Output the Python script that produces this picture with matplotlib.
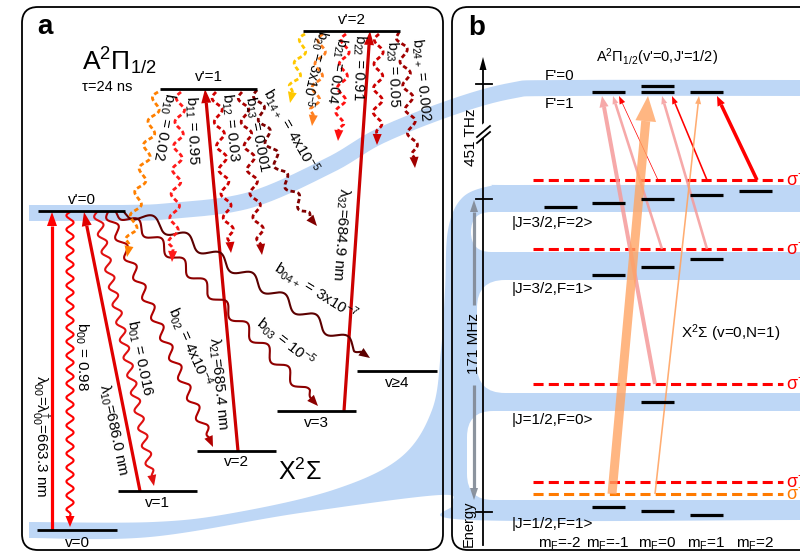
import numpy as np
import matplotlib
matplotlib.use("Agg")
import matplotlib.pyplot as plt
from matplotlib.patches import FancyBboxPatch, Polygon

plt.rcParams['font.family'] = ['Liberation Sans', 'DejaVu Sans']
plt.rcParams['mathtext.fontset'] = 'custom'
plt.rcParams['mathtext.rm'] = 'Liberation Sans'
plt.rcParams['mathtext.it'] = 'Liberation Sans:italic'
plt.rcParams['mathtext.bf'] = 'Liberation Sans:bold'

# ---------------- data: panel a ----------------
a_level_names = ["v'=0", "v'=1", "v'=2", "v=0", "v=1", "v=2", "v=3", "v≥4"]
a_level_x0 = [38, 160, 303, 37, 118, 197, 277, 357]
a_level_x1 = [125, 257, 400, 117, 197, 276, 356, 437]
a_level_y = [211, 89, 31, 530, 491, 451, 411, 371]
a_level_label_y = [200, 77, 20, 543, 503, 462, 423, 383]

pump_labels = ['λ$_{00}$=λ$^{†}_{00}$=663.3 nm', 'λ$_{10}$=686.0 nm',
               'λ$_{21}$=685.4 nm', 'λ$_{32}$=684.9 nm']
pump_start = [(52, 530), (140, 491), (238, 451), (344, 411)]
pump_end = [(52, 212), (84, 212), (205, 89), (370, 31)]
pump_colors = ['#ff0000', '#e00000', '#cc0000', '#cc0000']
pump_label_pos = [(41, 436, -90), (113, 430, -78), (218, 384, -84.5), (340, 234, -94)]

# decays from v'=0 (solid wavy)
d0_labels = ['b$_{00}$ = 0.98', 'b$_{01}$ = 0.016', 'b$_{02}$ = 4x10$^{-4}$',
             'b$_{03}$ = 10$^{-5}$', 'b$_{04+}$ = 3x10$^{-7}$']
d0_start = [(70, 212), (97, 212), (108, 212), (116, 212), (124, 212)]
d0_end = [(70, 527), (154, 486), (213, 447), (318, 406), (370, 358)]
d0_ctrl = [None, None, None, (150, 222), (165, 216)]
d0_colors = ['#ff0000', '#e01010', '#b00000', '#8b0000', '#5c0000']
d0_wl = [14, 18, 22, 30, 38]
d0_amp = [3.6, 3.8, 4.2, 5.0, 5.5]
d0_label_pos = [(82, 357, -90), (140, 358, -78), (190, 347, -66), (286, 342, -38), (316, 291, -32)]

# decays from v'=1 (dotted wavy)
d1_labels = ['b$_{10}$ = 0.02', 'b$_{11}$ = 0.95', 'b$_{12}$ = 0.03',
             'b$_{13}$ = 0.001', 'b$_{14+}$ = 4x10$^{-5}$']
d1_start = [(158, 92), (181, 92), (216, 92), (242, 92), (257, 90)]
d1_end = [(127, 257), (172, 262), (231, 253), (262, 255), (317, 226)]
d1_ctrl = [None, None, None, None, (268, 168)]
d1_colors = ['#ff8000', '#ff1a1a', '#d00000', '#a80000', '#800000']
d1_label_pos = [(164, 127, -100), (192, 130, -88), (230, 128, -84), (257, 134, -79), (291, 131, -60)]

# decays from v'=2 (dotted wavy)
d2_labels = ['b$_{20}$ = 3x10$^{-5}$', 'b$_{21}$ = 0.04', 'b$_{22}$ = 0.91',
             'b$_{23}$ = 0.05', 'b$_{24+}$ = 0.002']
d2_start = [(305, 34), (323, 34), (346, 34), (379, 34), (399, 32)]
d2_end = [(290, 103), (312, 126), (338, 141), (377, 145), (415, 168)]
d2_ctrl = [None, None, None, None, (404, 40)]
d2_colors = ['#ffc800', '#ff8020', '#ff1010', '#cc0000', '#a00000']
d2_label_pos = [(314, 68, -103), (336, 70, -99), (359, 68, -92), (393, 74, -88), (421, 80, -84)]
d2_label_size = [10, 10.5, 10.5, 10.5, 10.5]

# ---------------- data: panel b ----------------
mF_values = [-2, -1, 0, 1, 2]
mF_x = [560, 608, 657, 706, 755]
mF_labels = ['m$_\\mathrm{F}$=-2', 'm$_\\mathrm{F}$=-1', 'm$_\\mathrm{F}$=0',
             'm$_\\mathrm{F}$=1', 'm$_\\mathrm{F}$=2']
b_level_names = ["F'=1", "F'=0", '|J=3/2,F=2>', '|J=3/2,F=1>', '|J=1/2,F=0>', '|J=1/2,F=1>']
b_level_mF = [[-1, 0, 1], [0], [-2, -1, 0, 1, 2], [-1, 0, 1], [0], [-1, 0, 1]]
b_level_y = [[92, 92, 92], [86], [207, 203, 199, 195, 191], [275, 267, 259], [402], [507, 511, 515]]
b_state_labels = ['|J=3/2,F=2>', '|J=3/2,F=1>', '|J=1/2,F=0>', '|J=1/2,F=1>']
b_state_label_y = [223, 289, 420, 524]

pol_y = [180, 249, 384, 482, 494]
pol_labels = ['σ$^{-}$', 'σ$^{-}$', 'σ$^{-}$', 'σ$^{-}$', 'σ$^{+}$']
pol_colors = ['#ff0000', '#ff0000', '#ff0000', '#ff0000', '#ff7a00']

tr_start = [(757, 180), (707, 180), (658, 180), (707, 249), (662, 249), (655, 384), (612, 494), (655, 494)]
tr_end = [(717, 96), (672, 96), (619, 96), (662, 96), (613, 96), (602, 96), (648, 96), (699, 96)]
tr_colors = ['#ff0000', '#ff0000', '#ff0000', '#f59a9a', '#f59a9a', '#f59a9a', '#ffa463', '#ffa463']
tr_width = [3.5, 1.6, 0.7, 2.6, 2.6, 4.0, 9.0, 1.6]
tr_alpha = [1, 1, 1, 0.85, 0.85, 0.85, 0.8, 0.9]

band_color = '#bed7f6'

# ---------------- helpers ----------------
def catmull(points, n=30):
    pts = np.array(points, float)
    P = np.vstack([pts[0], pts, pts[-1]])
    out = []
    for i in range(1, len(P) - 2):
        p0, p1, p2, p3 = P[i - 1], P[i], P[i + 1], P[i + 2]
        t = np.linspace(0, 1, n, endpoint=False)[:, None]
        seg = 0.5 * ((2 * p1) + (-p0 + p2) * t + (2 * p0 - 5 * p1 + 4 * p2 - p3) * t ** 2
                     + (-p0 + 3 * p1 - 3 * p2 + p3) * t ** 3)
        out.append(seg)
    out.append(pts[-1][None, :])
    return np.vstack(out)


def head(ax, tip, dirv, hl, hw, color, z, alpha=1):
    nv = np.array([-dirv[1], dirv[0]])
    b = tip - hl * dirv
    ax.add_patch(Polygon([tip, b + nv * hw / 2, b - nv * hw / 2], closed=True,
                         facecolor=color, edgecolor='none', zorder=z, alpha=alpha))


def wavy_arrow(ax, p0, p1, color, wl, amp, ctrl=None, ls='-', lw=1.5, hl=10, hw=8, z=4):
    p0 = np.array(p0, float); p1 = np.array(p1, float)
    c = (p0 + p1) / 2 if ctrl is None else np.array(ctrl, float)
    t = np.linspace(0, 1, 800)[:, None]
    base = (1 - t) ** 2 * p0 + 2 * (1 - t) * t * c + t ** 2 * p1
    d = np.diff(base, axis=0)
    s = np.concatenate([[0], np.cumsum(np.hypot(d[:, 0], d[:, 1]))])
    L = s[-1]
    tang = np.gradient(base, axis=0)
    tang /= np.linalg.norm(tang, axis=1)[:, None]
    nrm = np.stack([-tang[:, 1], tang[:, 0]], 1)
    env = np.clip((L - hl - s) / 6, 0, 1)
    off = amp * np.sin(2 * np.pi * s / wl) * env
    pts = base + nrm * off[:, None]
    keep = s <= L - hl * 0.8
    ax.plot(pts[keep, 0], pts[keep, 1], color=color, lw=lw, ls=ls, zorder=z,
            solid_capstyle='round', dash_capstyle='butt')
    head(ax, p1, tang[-1], hl, hw, color, z)


def straight_arrow(ax, p0, p1, color, width_px, hl, hw, alpha=1, z=4):
    p0 = np.array(p0, float); p1 = np.array(p1, float)
    dv = (p1 - p0) / np.linalg.norm(p1 - p0)
    e = p1 - hl * dv
    ax.plot([p0[0], e[0]], [p0[1], e[1]], color=color, lw=width_px * 0.72,
            alpha=alpha, zorder=z, solid_capstyle='butt')
    head(ax, p1, dv, hl, hw, color, z, alpha)


# ---------------- figure ----------------
fig = plt.figure(figsize=(8, 5.54), dpi=100)
ax = fig.add_axes([0, 0, 1, 1])
ax.set_xlim(0, 800)
ax.set_ylim(554, 0)
ax.axis('off')

# blue bands
upper = catmull([(29, 213), (120, 213), (170, 211), (250, 200), (330, 165), (380, 136),
                 (450, 108), (510, 91), (560, 88), (800, 88)])
ax.plot(upper[:, 0], upper[:, 1], color=band_color, lw=11.5, solid_capstyle='butt', zorder=1)

top_edge = catmull([(29, 522), (153, 522), (233, 513), (333, 490), (400, 458), (432, 410),
                    (441, 350), (445, 290), (448, 230), (462, 198), (490, 186), (520, 185), (800, 185)])
bot_edge = catmull([(800, 520), (470, 520), (452, 505), (440, 495), (300, 513), (150, 537), (29, 538)])
ax.add_patch(Polygon(np.vstack([top_edge, bot_edge]), closed=True, facecolor=band_color,
                     edgecolor='none', zorder=1))
for (hx, hy0, hy1, r) in [(471, 212, 252, 20), (477, 280, 393, 28), (467, 411, 500, 26)]:
    ax.add_patch(FancyBboxPatch((hx, hy0), 400, hy1 - hy0,
                                boxstyle=f"round,pad=0,rounding_size={r}",
                                facecolor='white', edgecolor='none', zorder=1.5))

# panel frames
for x0, w in [(22, 421), (452, 420)]:
    ax.add_patch(FancyBboxPatch((x0, 7), w, 543, boxstyle="round,pad=0,rounding_size=16",
                                facecolor='none', edgecolor='black', lw=1.3, zorder=6))
ax.text(45, 27, 'a', fontsize=20, fontweight='bold', ha='center', va='center', zorder=7)
ax.text(477, 28, 'b', fontsize=20, fontweight='bold', ha='center', va='center', zorder=7)

# ---- panel a ----
for name, x0, x1, y, ly in zip(a_level_names, a_level_x0, a_level_x1, a_level_y, a_level_label_y):
    ax.plot([x0, x1], [y, y], color='black', lw=2.0, zorder=5, solid_capstyle='butt')
    ax.text((x0 + x1) / 2, ly, name, fontsize=11, ha='center', va='center', zorder=7)

ax.text(82, 61, 'A$^2$Π$_{1/2}$', fontsize=19, ha='left', va='center', zorder=7)
ax.text(82, 87, 'τ=24 ns', fontsize=10.5, ha='left', va='center', zorder=7)
ax.text(300, 472, 'X$^2$Σ', fontsize=18, ha='center', va='center', zorder=7)

for lab, p0, p1, c, (tx, ty, rot) in zip(pump_labels, pump_start, pump_end, pump_colors, pump_label_pos):
    straight_arrow(ax, p0, p1, c, 3.2, 14, 10, z=4)
    ax.text(tx, ty, lab, fontsize=11, rotation=rot, rotation_mode='anchor',
            ha='center', va='center', zorder=7)

for lab, p0, p1, cc, c, wl, amp, (tx, ty, rot) in zip(d0_labels, d0_start, d0_end, d0_ctrl,
                                                       d0_colors, d0_wl, d0_amp, d0_label_pos):
    wavy_arrow(ax, p0, p1, c, wl, amp, ctrl=cc, lw=1.5, hl=11, hw=9)
    ax.text(tx, ty, lab, fontsize=11, rotation=rot, rotation_mode='anchor',
            ha='center', va='center', zorder=7)

for lab, p0, p1, cc, c, (tx, ty, rot) in zip(d1_labels, d1_start, d1_end, d1_ctrl, d1_colors, d1_label_pos):
    wavy_arrow(ax, p0, p1, c, 24, 4.5, ctrl=cc, ls=(0, (1.6, 1.0)), lw=2.0, hl=11, hw=9)
    ax.text(tx, ty, lab, fontsize=11, rotation=rot, rotation_mode='anchor',
            ha='center', va='center', zorder=7)

for lab, p0, p1, cc, c, (tx, ty, rot), fs in zip(d2_labels, d2_start, d2_end, d2_ctrl, d2_colors,
                                                 d2_label_pos, d2_label_size):
    wavy_arrow(ax, p0, p1, c, 24, 4.5, ctrl=cc, ls=(0, (1.6, 1.0)), lw=2.0, hl=11, hw=9)
    ax.text(tx, ty, lab, fontsize=fs, rotation=rot, rotation_mode='anchor',
            ha='center', va='center', zorder=7)

# ---- panel b ----
# energy axis
ax.plot([483, 483], [545, 70], color='black', lw=1.3, zorder=5)
head(ax, np.array([483., 57.]), np.array([0., -1.]), 13, 7, 'black', 5)
for ty in [84, 199, 512]:
    ax.plot([476, 492], [ty, ty], color='black', lw=1.3, zorder=5)
ax.add_patch(Polygon([(478, 128), (490, 118), (490, 132), (478, 142)], closed=True,
                     facecolor='white', edgecolor='none', zorder=5.5))
ax.plot([477, 490], [137, 126], color='black', lw=1.3, zorder=5.6)
ax.plot([477, 490], [143, 132], color='black', lw=1.3, zorder=5.6)
ax.text(471, 137, '451 THz', fontsize=11, rotation=90, ha='center', va='center', zorder=7)
ax.text(469, 524, 'Energy', fontsize=10.5, rotation=90, ha='center', va='center', zorder=7)

# gray double arrow
straight_arrow(ax, (474, 305), (474, 200), '#808894', 3.2, 12, 8, alpha=0.9, z=3)
straight_arrow(ax, (474, 385), (474, 500), '#808894', 3.2, 12, 8, alpha=0.9, z=3)
ax.text(474, 344, '171 MHz', fontsize=11, rotation=90, ha='center', va='center', zorder=7)

# polarisation lines
for y, lab, c in zip(pol_y, pol_labels, pol_colors):
    ax.plot([533, 783], [y, y], color=c, lw=2.2, ls=(0, (3.3, 1.7)), zorder=3)
    ax.text(786, y + 1, lab, fontsize=13, color=c, ha='left', va='center', zorder=7)

# levels
for name, mfs, ys in zip(b_level_names, b_level_mF, b_level_y):
    for m, y in zip(mfs, ys):
        xc = mF_x[mF_values.index(m)]
        ax.plot([xc - 16.5, xc + 16.5], [y, y], color='black', lw=2.3, zorder=5,
                solid_capstyle='butt')

ax.text(545, 76, "F'=0", fontsize=11, ha='left', va='center', zorder=7)
ax.text(545, 104, "F'=1", fontsize=11, ha='left', va='center', zorder=7)
ax.text(657, 57, 'A$^2$Π$_{1/2}$(v\'=0,J\'=1/2)', fontsize=10.5, ha='center', va='center', zorder=7)
for lab, y in zip(b_state_labels, b_state_label_y):
    ax.text(512, y, lab, fontsize=11, ha='left', va='center', zorder=7)
ax.text(731, 333, 'X$^2$Σ (v=0,N=1)', fontsize=11, ha='center', va='center', zorder=7)
for x, lab in zip(mF_x, mF_labels):
    ax.text(x, 544, lab, fontsize=11, ha='center', va='center', zorder=7)

# transitions
for p0, p1, c, w, a in zip(tr_start, tr_end, tr_colors, tr_width, tr_alpha):
    hl = max(8, w * 2.8)
    hw = max(6, w * 2.3)
    straight_arrow(ax, p0, p1, c, w, hl, hw, alpha=a, z=4)

fig.savefig('out.png', dpi=100)
